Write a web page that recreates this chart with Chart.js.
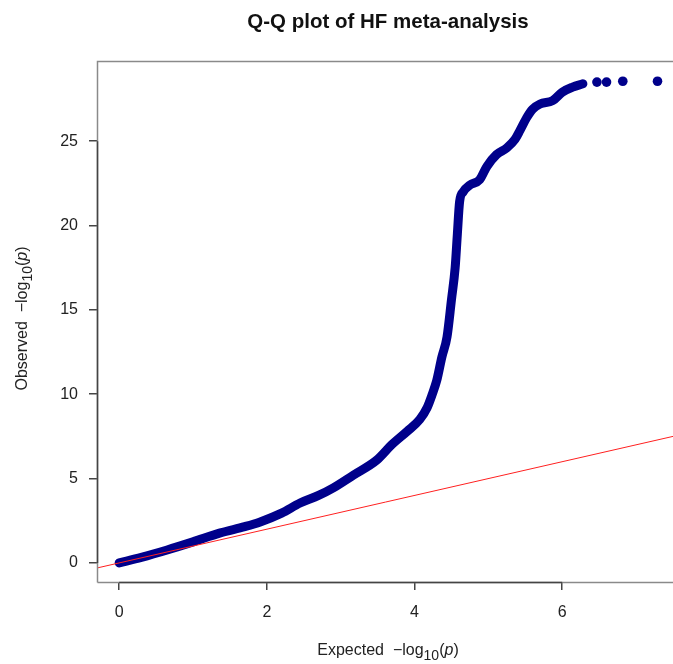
<!DOCTYPE html>
<html>
<head>
<meta charset="utf-8">
<script src="https://cdn.jsdelivr.net/npm/chart.js@4"></script>
<style>
  html, body { margin: 0; padding: 0; background: #fff; overflow: hidden; }
  #wrap { width: 673px; height: 664px; }
</style>
</head>
<body>
<div id="wrap"><canvas id="qq" width="673" height="664"></canvas></div>
<script>
// Q-Q data (expected vs observed -log10 p)
const expectedX = [0, 0.3, 0.65, 1.0, 1.37, 1.7, 1.91, 2.2, 2.45, 2.7, 2.9, 3.17, 3.49, 3.69, 3.9,
  4.07, 4.17, 4.24, 4.3, 4.37, 4.44, 4.5, 4.55, 4.58, 4.61, 4.66, 4.75, 4.88, 4.98, 5.11,
  5.25, 5.36, 5.43, 5.52, 5.6, 5.7, 5.87, 6.0, 6.14, 6.28];
const observedY = [0, 0.33, 0.77, 1.25, 1.78, 2.15, 2.43, 2.95, 3.55, 4.0, 4.45, 5.2, 6.1, 7.0, 7.8,
  8.5, 9.2, 10.0, 10.8, 12.2, 13.4, 15.6, 17.5, 19.5, 21.4, 22.0, 22.4, 22.7, 23.5, 24.2,
  24.6, 25.1, 25.65, 26.4, 26.9, 27.2, 27.4, 27.9, 28.2, 28.4];

// the few isolated top hits
const topX = [6.47, 6.6, 6.82, 7.29];
const topY = [28.5, 28.5, 28.55, 28.55];

// y = x reference line
const refX = [-0.3, 7.6];
const refY = [-0.3, 7.6];

const xTicks = [0, 2, 4, 6];
const yTicks = [0, 5, 10, 15, 20, 25];

const NAVY = "#00008B";
const FONT = "'Liberation Sans', Arial, sans-serif";

// helper to zip two arrays into {x, y} points
function pts(xs, ys) {
  return xs.map((x, i) => ({ x: x, y: ys[i] }));
}

// draws "<prefix> -log10(p)" with subscript and italic p, centered at 0,0
function drawLogLabel(ctx, prefix) {
  const parts = [
    { t: prefix + "  \u2212log", f: "16px " + FONT, dy: 0 },
    { t: "10", f: "14px " + FONT, dy: 5 },
    { t: "(", f: "16px " + FONT, dy: 0 },
    { t: "p", f: "italic 16px " + FONT, dy: 0 },
    { t: ")", f: "16px " + FONT, dy: 0 }
  ];
  let total = 0;
  parts.forEach(p => { ctx.font = p.f; p.w = ctx.measureText(p.t).width; total += p.w; });
  let x = -total / 2;
  ctx.textAlign = "left";
  ctx.textBaseline = "alphabetic";
  parts.forEach(p => {
    ctx.font = p.f;
    ctx.fillText(p.t, x, p.dy);
    x += p.w;
  });
}

// box, axis lines, title and axis titles in base-R style
const frame = {
  id: "frame",
  afterDatasetsDraw(chart) {
    const ctx = chart.ctx;
    const a = chart.chartArea;
    const xs = chart.scales.x, ys = chart.scales.y;
    ctx.save();

    ctx.strokeStyle = "#8a8a8a";
    ctx.lineWidth = 1.5;
    ctx.beginPath();
    ctx.moveTo(a.left + 0.5, a.bottom + 0.5);
    ctx.lineTo(a.left + 0.5, a.top + 0.5);
    ctx.lineTo(a.right + 10, a.top + 0.5);
    ctx.moveTo(a.left + 0.5, a.bottom + 0.5);
    ctx.lineTo(a.right + 10, a.bottom + 0.5);
    ctx.stroke();

    ctx.strokeStyle = "#444";
    ctx.lineWidth = 1.5;
    ctx.beginPath();
    ctx.moveTo(a.left + 0.5, ys.getPixelForValue(yTicks[0]));
    ctx.lineTo(a.left + 0.5, ys.getPixelForValue(yTicks[yTicks.length - 1]));
    ctx.moveTo(xs.getPixelForValue(xTicks[0]), a.bottom + 0.5);
    ctx.lineTo(xs.getPixelForValue(xTicks[xTicks.length - 1]), a.bottom + 0.5);
    ctx.stroke();

    ctx.fillStyle = "#111";
    ctx.font = "bold 20.5px " + FONT;
    ctx.textAlign = "center";
    ctx.textBaseline = "alphabetic";
    ctx.fillText("Q-Q plot of HF meta-analysis", 388, 28);

    ctx.fillStyle = "#222";
    ctx.save();
    ctx.translate(388, 655);
    drawLogLabel(ctx, "Expected");
    ctx.restore();

    ctx.save();
    ctx.translate(27, (a.top + a.bottom) / 2 - 3);
    ctx.rotate(-Math.PI / 2);
    drawLogLabel(ctx, "Observed");
    ctx.restore();

    ctx.restore();
  }
};

const tickFont = { family: FONT, size: 16 };

new Chart(document.getElementById("qq"), {
  type: "scatter",
  data: {
    datasets: [
      {
        data: pts(refX, refY),
        showLine: true,
        borderColor: "#ff2020",
        borderWidth: 1,
        pointRadius: 0,
        order: 0
      },
      {
        data: pts(expectedX, observedY),
        showLine: true,
        borderColor: NAVY,
        borderWidth: 9,
        borderCapStyle: "round",
        borderJoinStyle: "round",
        cubicInterpolationMode: "monotone",
        pointRadius: 0,
        order: 1
      },
      {
        data: pts(topX, topY),
        backgroundColor: NAVY,
        borderWidth: 0,
        pointRadius: 4.8,
        order: 1
      }
    ]
  },
  options: {
    responsive: false,
    animation: false,
    layout: { autoPadding: false, padding: { top: 61, left: 0, right: 0, bottom: 0 } },
    plugins: { legend: { display: false }, tooltip: { enabled: false } },
    scales: {
      x: {
        type: "linear",
        min: -0.3,
        max: 7.5,
        afterBuildTicks: s => { s.ticks = xTicks.map(v => ({ value: v })); },
        afterFit: s => { s.height = 82; },
        grid: { drawOnChartArea: false, drawTicks: true, tickLength: 8, color: "#444", lineWidth: 1.5 },
        border: { display: false },
        ticks: { padding: 13, color: "#222", font: tickFont, maxRotation: 0 }
      },
      y: {
        type: "linear",
        min: -1.13,
        max: 29.75,
        afterBuildTicks: s => { s.ticks = yTicks.map(v => ({ value: v })); },
        afterFit: s => { s.width = 97; },
        grid: { drawOnChartArea: false, drawTicks: true, tickLength: 8, color: "#444", lineWidth: 1.5 },
        border: { display: false },
        ticks: { padding: 11, color: "#222", font: tickFont }
      }
    }
  },
  plugins: [frame]
});
</script>
</body>
</html>
